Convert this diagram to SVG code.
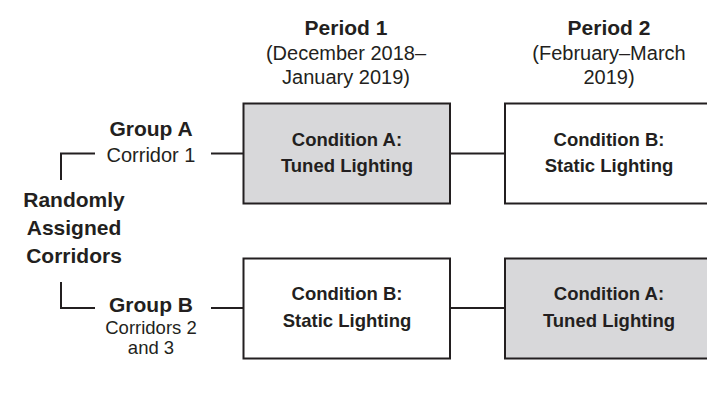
<svg xmlns="http://www.w3.org/2000/svg" width="707" height="393" viewBox="0 0 707 393">
<style>
text{font-family:"Liberation Sans",Arial,sans-serif;fill:#231f20;text-anchor:middle}
.b{font-weight:bold;font-size:21px}
.r{font-size:20px}
.s{font-size:18.5px}
.bx{font-weight:bold;font-size:18.5px}
.box{stroke:#231f20;stroke-width:2}
.gray{fill:#d8d8da}
.white{fill:#ffffff}
.ln{stroke:#231f20;stroke-width:2;fill:none}
</style>
<rect width="707" height="393" fill="#ffffff"/>
<g id="period1">
<text class="b" x="346" y="35">Period 1</text>
<text class="r" x="346" y="60">(December 2018–</text>
<text class="r" x="346" y="84">January 2019)</text>
</g>
<g id="period2">
<text class="b" x="609" y="35">Period 2</text>
<text class="r" x="609" y="60">(February–March</text>
<text class="r" x="609" y="84">2019)</text>
</g>
<g id="randomly">
<text class="b" x="74" y="207">Randomly</text>
<text class="b" x="74" y="235">Assigned</text>
<text class="b" x="74" y="263">Corridors</text>
</g>
<g id="groupA">
<text class="b" x="151" y="136">Group A</text>
<text class="r" x="151" y="162">Corridor 1</text>
</g>
<g id="groupB">
<text class="b" x="151" y="312">Group B</text>
<text class="s" x="151" y="334">Corridors 2</text>
<text class="s" x="151" y="354">and 3</text>
</g>
<g id="connectors">
<path class="ln" d="M95 153.5H61V180"/>
<path class="ln" d="M61 282V308H95"/>
<path class="ln" d="M211 153.5H243"/>
<path class="ln" d="M450 153.5H505"/>
<path class="ln" d="M211 308H243"/>
<path class="ln" d="M450 308H505"/>
</g>
<g id="boxA1">
<rect class="box gray" x="243.5" y="103.5" width="206.5" height="100"/>
<text class="bx" x="347" y="146">Condition A:</text>
<text class="bx" x="347" y="172">Tuned Lighting</text>
</g>
<g id="boxB2">
<rect class="box white" x="505" y="103.5" width="208" height="100"/>
<text class="bx" x="609" y="146">Condition B:</text>
<text class="bx" x="609" y="172">Static Lighting</text>
</g>
<g id="boxB1">
<rect class="box white" x="243.5" y="258.5" width="206.5" height="100"/>
<text class="bx" x="347" y="300">Condition B:</text>
<text class="bx" x="347" y="327">Static Lighting</text>
</g>
<g id="boxA2">
<rect class="box gray" x="505" y="258.5" width="208" height="100"/>
<text class="bx" x="609" y="300">Condition A:</text>
<text class="bx" x="609" y="327">Tuned Lighting</text>
</g>
</svg>
